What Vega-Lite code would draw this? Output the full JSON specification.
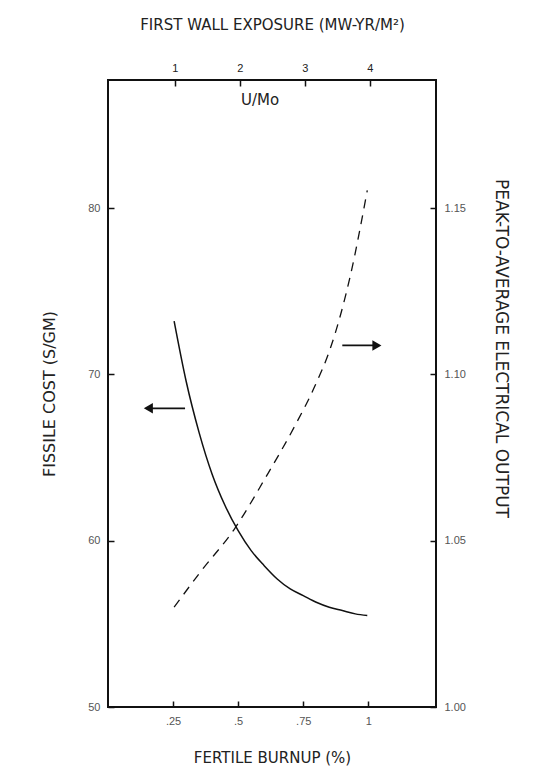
{
  "$schema": "https://vega.github.io/schema/vega-lite/v6.json",
  "width": 328,
  "height": 627,
  "autosize": {"type": "none"},
  "padding": {"left": 108, "top": 80, "right": 104, "bottom": 75},
  "background": "white",
  "config": {
    "view": {"stroke": "#111", "strokeWidth": 2},
    "font": "DejaVu Sans",
    "axis": {"domain": false, "grid": false, "tickColor": "#111", "tickWidth": 1.5, "tickSize": -6, "labelFont": "Liberation Sans", "titleFont": "DejaVu Sans", "titleFontWeight": "normal", "labelColor": "#555", "titleColor": "#222"}
  },
  "datasets": {
    "cost": [
      {"burnup": 0.254, "cost": 73.2},
      {"burnup": 0.3, "cost": 69.6},
      {"burnup": 0.35, "cost": 66.5},
      {"burnup": 0.4, "cost": 64.0},
      {"burnup": 0.45, "cost": 62.1},
      {"burnup": 0.5, "cost": 60.6},
      {"burnup": 0.55, "cost": 59.4},
      {"burnup": 0.6, "cost": 58.5},
      {"burnup": 0.65, "cost": 57.7},
      {"burnup": 0.7, "cost": 57.1},
      {"burnup": 0.75, "cost": 56.7},
      {"burnup": 0.8, "cost": 56.3},
      {"burnup": 0.85, "cost": 56.0},
      {"burnup": 0.9, "cost": 55.8},
      {"burnup": 0.95, "cost": 55.6},
      {"burnup": 0.996, "cost": 55.5}
    ],
    "ratio": [
      {"burnup": 0.254, "ratio": 1.03},
      {"burnup": 0.354, "ratio": 1.0405},
      {"burnup": 0.488, "ratio": 1.0538},
      {"burnup": 0.604, "ratio": 1.0688},
      {"burnup": 0.719, "ratio": 1.0847},
      {"burnup": 0.796, "ratio": 1.0967},
      {"burnup": 0.854, "ratio": 1.1078},
      {"burnup": 0.931, "ratio": 1.1297},
      {"burnup": 0.996, "ratio": 1.1553}
    ],
    "leftArrow": [{"from": 0.296, "to": 0.155, "cost": 67.96}],
    "rightArrow": [{"from": 0.9, "to": 1.033, "ratio": 1.1087}],
    "umoLabel": [{"umo": 2.31, "cost": 86.5, "label": "U/Mo"}]
  },
  "layer": [
    {
      "layer": [
        {
          "data": {"name": "cost"},
          "mark": {"type": "line", "color": "#111", "strokeWidth": 1.5, "interpolate": "monotone"},
          "encoding": {
            "x": {"field": "burnup", "type": "quantitative", "scale": {"domain": [0, 1.26], "nice": false, "zero": false},
              "axis": {"orient": "bottom", "values": [0.25, 0.5, 0.75, 1], "labelExpr": "datum.value == 0.25 ? '.25' : datum.value == 0.5 ? '.5' : datum.value == 0.75 ? '.75' : '1'", "labelFontSize": 11, "labelPadding": 14, "title": "FERTILE BURNUP (%)", "titleFontSize": 15, "titlePadding": 24}},
            "y": {"field": "cost", "type": "quantitative", "scale": {"domain": [50, 87.7], "nice": false, "zero": false},
              "axis": {"orient": "left", "values": [50, 60, 70, 80], "labelFontSize": 11, "labelPadding": 14, "title": "FISSILE COST (S/GM)", "titleFontSize": 16, "titlePadding": 30}}
          }
        },
        {
          "data": {"name": "leftArrow"},
          "mark": {"type": "rule", "color": "#111", "strokeWidth": 1.8},
          "encoding": {
            "x": {"field": "from", "type": "quantitative"},
            "x2": {"field": "to"},
            "y": {"field": "cost", "type": "quantitative"}
          }
        },
        {
          "data": {"name": "leftArrow"},
          "mark": {"type": "point", "shape": "triangle-left", "filled": true, "color": "#111", "size": 110, "opacity": 1},
          "encoding": {
            "x": {"field": "to", "type": "quantitative"},
            "y": {"field": "cost", "type": "quantitative"}
          }
        }
      ]
    },
    {
      "layer": [
        {
          "data": {"name": "ratio"},
          "mark": {"type": "line", "color": "#111", "strokeWidth": 1.3, "strokeDash": [9, 7], "interpolate": "monotone"},
          "encoding": {
            "x": {"field": "burnup", "type": "quantitative", "scale": {"domain": [0, 1.26], "nice": false, "zero": false}, "axis": null},
            "y": {"field": "ratio", "type": "quantitative", "scale": {"domain": [1, 1.1885], "nice": false, "zero": false},
              "axis": {"orient": "right", "values": [1, 1.05, 1.1, 1.15], "format": ".2f", "labelFontSize": 11, "labelPadding": 14, "title": "PEAK-TO-AVERAGE ELECTRICAL OUTPUT", "titleFontSize": 17, "titleAngle": 90, "titleX": 64, "titleY": 268, "titleAlign": "center", "titleBaseline": "middle"}}
          }
        },
        {
          "data": {"name": "rightArrow"},
          "mark": {"type": "rule", "color": "#111", "strokeWidth": 1.8},
          "encoding": {
            "x": {"field": "from", "type": "quantitative"},
            "x2": {"field": "to"},
            "y": {"field": "ratio", "type": "quantitative"}
          }
        },
        {
          "data": {"name": "rightArrow"},
          "mark": {"type": "point", "shape": "triangle-right", "filled": true, "color": "#111", "size": 110, "opacity": 1},
          "encoding": {
            "x": {"field": "to", "type": "quantitative"},
            "y": {"field": "ratio", "type": "quantitative"}
          }
        }
      ]
    },
    {
      "data": {"name": "umoLabel"},
      "mark": {"type": "text", "fontSize": 15, "color": "#222", "font": "DejaVu Sans"},
      "encoding": {
        "x": {"field": "umo", "type": "quantitative", "scale": {"domain": [-0.03, 5.02], "nice": false, "zero": false},
          "axis": {"orient": "top", "values": [1, 2, 3, 4], "labelFontSize": 11, "labelColor": "#222", "labelPadding": 13, "title": "FIRST WALL EXPOSURE (MW-YR/M²)", "titleFontSize": 15, "titlePadding": 30}},
        "y": {"field": "cost", "type": "quantitative", "scale": {"domain": [50, 87.7], "nice": false, "zero": false}, "axis": null},
        "text": {"field": "label", "type": "nominal"}
      }
    }
  ],
  "resolve": {"scale": {"x": "independent", "y": "independent"}}
}
